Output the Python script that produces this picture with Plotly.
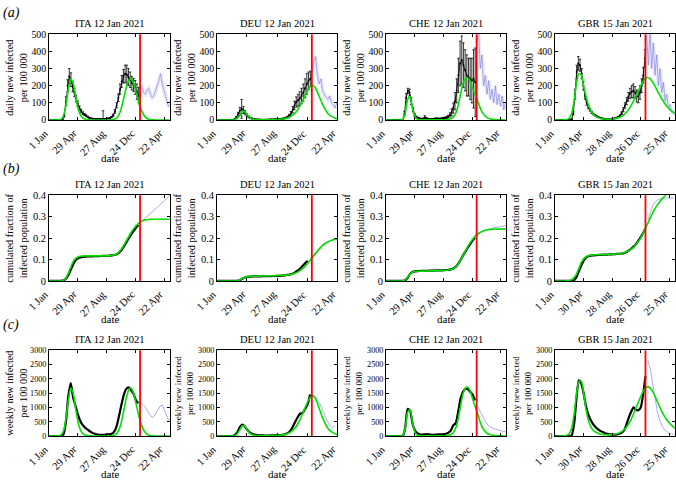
import numpy as np
import pandas as pd
import plotly.graph_objects as go

START = pd.Timestamp("2020-01-01")
W, H = 676, 487

countries = ["ITA", "DEU", "CHE", "GBR"]
panel_titles = ["ITA 12 Jan 2021", "DEU 12 Jan 2021", "CHE 12 Jan 2021", "GBR 15 Jan 2021"]
cutoff_dates = ["2021-01-12", "2021-01-12", "2021-01-12", "2021-01-15"]
span_days = [501, 477, 499, 504]
tick_dates_std = ["2020-01-01", "2020-04-29", "2020-08-27", "2020-12-24", "2021-04-22"]
tick_text_std = ["1 Jan", "29 Apr", "27 Aug", "24 Dec", "22 Apr"]
tick_dates_gbr = ["2020-01-01", "2020-04-30", "2020-08-28", "2020-12-26", "2021-04-25"]
tick_text_gbr = ["1 Jan", "30 Apr", "28 Aug", "26 Dec", "25 Apr"]

row_ticks = [[0, 100, 200, 300, 400, 500],
             [0, 0.1, 0.2, 0.3, 0.4],
             [0, 500, 1000, 1500, 2000, 2500, 3000]]
row_ticktext = [["0", "100", "200", "300", "400", "500"],
                ["0", "0.1", "0.2", "0.3", "0.4"],
                ["0", "500", "1000", "1500", "2000", "2500", "3000"]]
row_ylabels = ["daily new infected<br>per 100 000",
               "cumulated fraction of<br>infected population",
               "weekly new infected<br>per 100 000"]

# ---------------- ITA ----------------
# daily (weekly samples, every 7 days from 1 Jan 2020)
ita_daily_obs = [0, 0, 0, 0, 0, 0, 0, 0, 3, 25, 110, 200, 255, 235, 195, 160, 125, 95, 70, 52,
                 40, 32, 25, 18, 12, 9, 7, 6, 5, 5, 5, 5, 6, 6, 7, 9, 12, 17, 28, 50,
                 85, 130, 180, 225, 255, 270, 265, 250, 235, 215, 205, 190, 165, 145]
ita_daily_err = [0, 0, 0, 0, 0, 0, 0, 0, 2, 8, 25, 35, 45, 40, 30, 25, 20, 16, 12, 10,
                 8, 6, 5, 4, 3, 3, 2, 2, 2, 2, 2, 2, 48, 2, 2, 3, 3, 4, 6, 10,
                 15, 22, 30, 35, 40, 50, 55, 50, 45, 40, 38, 40, 45, 45]
ita_daily_future = [205, 190, 160, 150, 175, 185, 150, 130, 140, 165, 200, 230, 270, 210, 170, 140, 100, 75]
# model fits and smooth series (every 10 days)
ita_daily_fit = [0, 0, 0, 0, 1, 5, 25, 85, 180, 240, 215, 140, 70, 30, 12, 5, 2, 1,
                 0.5, 0.3, 0.3, 0.3, 0.3, 0.4, 0.5, 0.8,
                 1.5, 4, 12, 32, 72, 130, 190, 230, 240, 215, 165, 110, 65, 35, 15, 6, 2, 1,
                 0, 0, 0, 0, 0, 0, 0]
ita_cum_obs = [0, 0, 0, 0, 0, 0.001, 0.003, 0.01, 0.028, 0.052, 0.077, 0.096, 0.106, 0.11, 0.112,
               0.113, 0.114, 0.115, 0.115, 0.116, 0.116, 0.116, 0.117, 0.117, 0.117, 0.118, 0.119,
               0.121, 0.125, 0.132, 0.144, 0.161, 0.18, 0.199, 0.217, 0.233, 0.248, 0.262]
ita_cum_future = [0.275, 0.285, 0.294, 0.303, 0.312, 0.322, 0.332, 0.342, 0.353, 0.365, 0.376, 0.388, 0.40]
ita_cum_fit = [0, 0, 0, 0, 0, 0.001, 0.004, 0.014, 0.036, 0.064, 0.09, 0.105, 0.112, 0.115, 0.116,
               0.117, 0.117, 0.117, 0.117, 0.117, 0.117, 0.117, 0.117, 0.117, 0.117, 0.118,
               0.119, 0.121, 0.126, 0.135, 0.149, 0.167, 0.187, 0.207, 0.226, 0.243, 0.257, 0.268,
               0.276, 0.282, 0.285, 0.287, 0.288,
               0.288, 0.288, 0.288, 0.288, 0.288, 0.288, 0.288, 0.288]
ita_weekly_obs = [0, 0, 0, 0, 0, 5, 60, 500, 1400, 1850, 1350, 1050, 750, 520, 380, 290, 220, 160,
                  110, 75, 55, 45, 40, 45, 55, 60, 80, 150, 350, 700, 1100, 1450, 1650, 1700, 1600,
                  1480, 1250, 1150]
ita_weekly_future = [1150, 1100, 1000, 850, 700, 650, 750, 900, 1050, 1080, 850, 650, 500]
ita_weekly_fit = [0, 0, 0, 0, 7, 35, 175, 600, 1260, 1680, 1500, 980, 490, 210, 85, 35, 14, 7,
                  4, 2, 2, 2, 2, 3, 4, 6,
                  10, 28, 85, 225, 500, 910, 1330, 1610, 1680, 1500, 1150, 770, 455, 245, 105, 42, 14, 7,
                  0, 0, 0, 0, 0, 0, 0]

# ---------------- DEU ----------------
deu_daily_obs = [0, 0, 0, 0, 0, 0, 0, 0, 0, 0,
                 5, 15, 35, 55, 65, 58, 42, 28, 18, 12,
                 8, 6, 4, 3, 3, 2, 2, 2, 2, 2,
                 3, 3, 3, 4, 4, 5, 6, 7, 9, 12,
                 17, 25, 38, 60, 85, 105, 115, 125, 140, 160,
                 185, 210, 230, 240]
deu_daily_err = [0, 0, 0, 0, 0, 0, 0, 0, 0, 0,
                 2, 5, 10, 18, 55, 20, 12, 8, 5, 4,
                 3, 2, 2, 1, 1, 1, 1, 1, 1, 1,
                 1, 1, 1, 2, 2, 2, 2, 3, 3, 4,
                 5, 8, 12, 18, 25, 30, 35, 40, 45, 50,
                 55, 60, 50, 45]
deu_daily_future = [280, 340, 370, 260, 210, 240, 170, 150, 130, 120, 140, 100, 90, 70, 100]
deu_daily_fit = [0, 0, 0, 0, 0, 0, 0,
                 2, 10, 25, 50, 50, 30, 14, 6, 3, 2, 1.5,
                 1.5, 1.5, 1.5, 2, 2, 3, 3, 4, 6, 8,
                 12, 18, 27, 40, 58, 82, 110, 140, 170, 195,
                 203, 190, 160, 125, 90, 62, 40, 26, 17, 11, 7]
deu_cum_obs = [0, 0, 0, 0, 0, 0, 0, 0, 0.001, 0.003, 0.01, 0.016, 0.019, 0.02, 0.0205, 0.021,
               0.021, 0.0215, 0.022, 0.022, 0.022, 0.0225, 0.023, 0.023, 0.0235, 0.024, 0.025,
               0.026, 0.028, 0.03, 0.034, 0.04, 0.048, 0.057, 0.07, 0.082, 0.094]
deu_cum_future = [0.104, 0.118, 0.133, 0.147, 0.16, 0.171, 0.179, 0.185, 0.189, 0.192]
deu_cum_fit = [0, 0, 0, 0, 0, 0, 0, 0, 0.001, 0.004, 0.011, 0.017, 0.02, 0.021,
               0.0215, 0.022, 0.022, 0.0225, 0.023, 0.023, 0.0235, 0.024, 0.024, 0.0245, 0.025, 0.0255, 0.026,
               0.027, 0.028, 0.03, 0.032, 0.036, 0.041, 0.048, 0.057, 0.068, 0.081, 0.095,
               0.11, 0.125, 0.14, 0.153, 0.165, 0.174, 0.181, 0.187, 0.191, 0.194, 0.196]
deu_weekly_obs = [0, 0, 0, 0, 0, 0, 0, 30, 120, 300, 400, 340, 220, 130, 80, 50, 35, 25,
                  20, 18, 18, 20, 22, 25, 28, 35, 45, 60, 100, 170, 300, 480, 650, 780, 800,
                  950, 1100, 1450]
deu_weekly_future = [1450, 1380, 1250, 1120, 900, 680, 500, 360, 280, 380]
deu_weekly_fit = [0, 0, 0, 0, 0, 0, 0,
                  14, 70, 200, 350, 360, 210, 100, 45, 22, 14, 11,
                  10, 10, 11, 13, 15, 20, 22, 28, 40, 56,
                  85, 125, 190, 280, 405, 575, 770, 980, 1190, 1350,
                  1410, 1330, 1120, 875, 630, 435, 280, 180, 120, 78, 50]

# ---------------- CHE ----------------
che_daily_obs = [0, 0, 0, 0, 0, 0, 0, 0, 0, 0, 0,
                 40, 130, 170, 160, 110, 60, 30, 18, 12, 9,
                 7, 8, 15, 10, 6, 5, 5, 6, 8, 9,
                 8, 8, 9, 10, 12, 15, 20, 30, 45, 70,
                 110, 170, 260, 330, 350, 320, 290, 260, 250, 240,
                 230, 240, 220]
che_daily_err = [0, 0, 0, 0, 0, 0, 0, 0, 0, 0, 0,
                 10, 25, 15, 20, 20, 12, 8, 5, 4, 3,
                 3, 3, 10, 4, 2, 2, 2, 2, 3, 3,
                 3, 3, 3, 4, 5, 6, 8, 12, 20, 30,
                 50, 70, 100, 130, 140, 130, 120, 120, 110, 120,
                 130, 170, 200]
che_daily_future = [450, 520, 300, 380, 200, 260, 150, 230, 120, 180, 100, 200, 90, 150, 80, 140, 60, 100]
che_daily_fit = [0, 0, 0, 0, 0, 0, 0,
                 5, 40, 120, 135, 70, 20, 5, 2, 1,
                 1, 1, 1, 1, 1, 1, 1, 1, 1,
                 2, 4, 8, 18, 40, 85, 150, 210, 240, 245,
                 225, 185, 150, 115, 75, 45, 26, 14, 8, 5,
                 3, 2, 1, 1, 0.5, 0.5]
che_cum_obs = [0, 0, 0, 0, 0, 0, 0, 0, 0.003, 0.015, 0.033, 0.042, 0.045, 0.046, 0.0465, 0.047,
               0.047, 0.0475, 0.048, 0.048, 0.0485, 0.049, 0.049, 0.0495, 0.05, 0.051, 0.052,
               0.054, 0.058, 0.066, 0.08, 0.098, 0.118, 0.137, 0.155, 0.172, 0.188, 0.203]
che_cum_future = [0.215, 0.225, 0.232, 0.237, 0.241, 0.244, 0.246, 0.248, 0.25, 0.252, 0.254, 0.256, 0.258]
che_cum_fit = [0, 0, 0, 0, 0, 0, 0, 0.001, 0.005, 0.018, 0.032, 0.041, 0.044, 0.045,
               0.0455, 0.046, 0.046, 0.0465, 0.047, 0.047, 0.0475, 0.048, 0.048, 0.0485, 0.049, 0.05, 0.051,
               0.053, 0.057, 0.065, 0.078, 0.096, 0.117, 0.139, 0.16, 0.179, 0.195,
               0.208, 0.218, 0.226, 0.231, 0.235, 0.238, 0.24, 0.241, 0.242, 0.242,
               0.242, 0.242, 0.242, 0.242]
che_weekly_obs = [0, 0, 0, 0, 0, 0, 0, 0, 300, 950, 900, 450, 200, 100, 60, 50, 60, 70,
                  55, 45, 45, 50, 55, 55, 60, 80, 120, 200, 380, 450, 850, 1300, 1550, 1650, 1650,
                  1550, 1450, 1250]
che_weekly_future = [1050, 900, 700, 550, 420, 330, 280, 250, 230, 200, 170, 160, 140]
che_weekly_fit = [0, 0, 0, 0, 0, 0, 0,
                  35, 280, 840, 930, 490, 140, 35, 14, 7,
                  7, 7, 7, 7, 7, 7, 7, 7, 7,
                  14, 28, 56, 126, 280, 595, 1050, 1470, 1680, 1715,
                  1575, 1295, 1050, 805, 525, 315, 182, 98, 56, 35,
                  21, 14, 7, 7, 3, 3]

# ---------------- GBR ----------------
gbr_daily_obs = [0, 0, 0, 0, 0, 0, 0, 0, 0, 0,
                 5, 40, 150, 280, 330, 320, 270, 200, 140, 100,
                 75, 60, 45, 35, 28, 22, 17, 13, 10, 8,
                 7, 6, 6, 6, 7, 8, 10, 13, 18, 25,
                 40, 60, 85, 110, 135, 155, 165, 170, 160, 140,
                 135, 160, 200, 260, 360]
gbr_daily_err = [0, 0, 0, 0, 0, 0, 0, 0, 0, 0,
                 2, 10, 30, 40, 40, 35, 30, 25, 18, 14,
                 10, 8, 7, 5, 4, 3, 3, 2, 2, 2,
                 2, 1, 1, 1, 2, 2, 2, 3, 4, 5,
                 8, 12, 16, 20, 25, 30, 35, 40, 35, 35,
                 35, 40, 40, 45, 50]
gbr_daily_future = [500, 320, 520, 300, 450, 260, 380, 200, 300, 160, 220, 110, 150, 70, 90, 45, 50, 30]
gbr_daily_fit = [0, 0, 0, 0, 1, 3, 12, 40, 110, 210, 270, 265, 200, 140, 90, 55, 35, 22,
                 14, 9, 7, 6, 5, 5, 6, 8, 11, 15, 22, 32, 45, 62, 85, 112, 140, 170, 200, 225,
                 242, 248, 240, 222, 198, 170, 145, 120, 98, 80, 65, 52, 42, 34]
gbr_cum_obs = [0, 0, 0, 0, 0, 0, 0, 0, 0.004, 0.018, 0.045, 0.072, 0.094, 0.108, 0.115, 0.118,
               0.119, 0.12, 0.121, 0.122, 0.122, 0.123, 0.123, 0.124, 0.124, 0.125, 0.126, 0.127,
               0.128, 0.13, 0.135, 0.142, 0.15, 0.16, 0.172, 0.188, 0.205, 0.224, 0.245]
gbr_cum_future = [0.285, 0.32, 0.35, 0.368, 0.378, 0.383, 0.386, 0.387, 0.387, 0.387, 0.387, 0.387]
gbr_cum_fit = [0, 0, 0, 0, 0, 0.001, 0.002, 0.006, 0.016, 0.032, 0.058, 0.085, 0.103, 0.113, 0.118,
               0.12, 0.121, 0.122, 0.122, 0.123, 0.123, 0.123, 0.124, 0.124, 0.125, 0.125, 0.126,
               0.127, 0.129, 0.132, 0.136, 0.141, 0.148, 0.157, 0.169, 0.184, 0.201, 0.222, 0.245,
               0.27, 0.294, 0.318, 0.338, 0.355, 0.37, 0.383, 0.395, 0.405, 0.414, 0.421, 0.427, 0.432]
gbr_weekly_obs = [0, 0, 0, 0, 0, 0, 0, 30, 400, 1300, 1950, 1850, 1500, 1050, 750, 560, 420, 320,
                  240, 180, 140, 100, 75, 60, 50, 50, 60, 80, 120, 200, 400, 650, 850, 1000, 920,
                  900, 1000, 1450, 2100]
gbr_weekly_future = [2650, 2350, 1850, 1300, 850, 550, 350, 220, 140, 95, 70, 55]
gbr_weekly_fit = [0, 0, 0, 0, 7, 25, 90, 280, 750, 1450, 1900, 1930, 1500, 950, 560, 330, 210, 140,
                  95, 70, 55, 45, 42, 42, 48, 60, 80, 110, 155, 220, 310, 430, 590, 780, 980, 1180,
                  1380, 1560, 1680, 1720, 1680, 1560, 1390, 1200, 1010, 840, 690, 560, 455, 370, 300, 245]

series = {
    "ITA": [(ita_daily_obs, ita_daily_err, ita_daily_future, ita_daily_fit),
            (ita_cum_obs, None, ita_cum_future, ita_cum_fit),
            (ita_weekly_obs, None, ita_weekly_future, ita_weekly_fit)],
    "DEU": [(deu_daily_obs, deu_daily_err, deu_daily_future, deu_daily_fit),
            (deu_cum_obs, None, deu_cum_future, deu_cum_fit),
            (deu_weekly_obs, None, deu_weekly_future, deu_weekly_fit)],
    "CHE": [(che_daily_obs, che_daily_err, che_daily_future, che_daily_fit),
            (che_cum_obs, None, che_cum_future, che_cum_fit),
            (che_weekly_obs, None, che_weekly_future, che_weekly_fit)],
    "GBR": [(gbr_daily_obs, gbr_daily_err, gbr_daily_future, gbr_daily_fit),
            (gbr_cum_obs, None, gbr_cum_future, gbr_cum_fit),
            (gbr_weekly_obs, None, gbr_weekly_future, gbr_weekly_fit)],
}


def to_dates(offsets):
    return START + pd.to_timedelta(np.asarray(offsets), unit="D")


col_px = [(49, 170), (217, 337), (386, 506), (555, 675)]
row_px = [(29, 117), (194, 282), (353, 441)]
row_range = [[-0.6, 500], [-0.0005, 0.4], [-3.5, 3000]]
row_step = [7, 10, 10]
row_ytick_size = [9.8, 10.5, 8.2]

FONT = "Liberation Serif, Times New Roman, serif"
BLUE = "rgba(125,125,225,0.7)"
BAND = "rgba(160,160,240,0.22)"
GREEN = "rgb(0,225,0)"

fig = go.Figure()
layout = {}
shapes = []
annotations = []

for c, cc in enumerate(countries):
    x0p, x1p = col_px[c]
    tdates = tick_dates_gbr if cc == "GBR" else tick_dates_std
    ttext = tick_text_gbr if cc == "GBR" else tick_text_std
    for r in range(3):
        k = r * 4 + c + 1
        suffix = "" if k == 1 else str(k)
        xa, ya = f"x{suffix}", f"y{suffix}"
        y0p, y1p = row_px[r]
        obs, err, fut, fit = series[cc][r]
        step = row_step[r]
        obs_x = to_dates(np.arange(len(obs)) * step)
        fut_x = to_dates((np.arange(len(fut)) + len(obs)) * step)
        fit_x = to_dates(np.arange(len(fit)) * 10)

        if r == 0:
            fig.add_trace(go.Scatter(x=fut_x, y=fut, mode="lines", xaxis=xa, yaxis=ya,
                                     line=dict(color=BAND, width=4), showlegend=False,
                                     hoverinfo="skip"))
        fig.add_trace(go.Scatter(x=fut_x, y=fut, mode="lines", xaxis=xa, yaxis=ya,
                                 line=dict(color=BLUE, width=0.9), showlegend=False))
        if r == 0:
            fig.add_trace(go.Scatter(x=obs_x, y=obs, mode="lines+markers", xaxis=xa, yaxis=ya,
                                     line=dict(color="black", width=0.9),
                                     marker=dict(color="black", size=2),
                                     error_y=dict(type="data", array=err, color="black",
                                                  thickness=0.8, width=1.2),
                                     showlegend=False))
        else:
            fig.add_trace(go.Scatter(x=obs_x, y=obs, mode="lines", xaxis=xa, yaxis=ya,
                                     line=dict(color="black", width=2.2, shape="spline",
                                               smoothing=0.6),
                                     showlegend=False))
        fig.add_trace(go.Scatter(x=fit_x, y=fit, mode="lines", xaxis=xa, yaxis=ya,
                                 line=dict(color=GREEN, width=1.6, shape="spline", smoothing=0.6),
                                 showlegend=False))

        shapes.append(dict(type="line", xref=xa, yref=f"{ya} domain",
                           x0=cutoff_dates[c], x1=cutoff_dates[c], y0=0, y1=1,
                           line=dict(color="rgb(255,0,0)", width=1.8)))

        axis_common = dict(showline=True, linecolor="black", linewidth=0.8, mirror="ticks",
                           ticks="inside", ticklen=3, tickwidth=0.8, tickcolor="black",
                           showgrid=False, zeroline=False)
        xname = f"xaxis{suffix}"
        yname = f"yaxis{suffix}"
        layout[xname] = dict(axis_common, domain=[x0p / W, x1p / W], anchor=ya, type="date",
                             range=[START, START + pd.Timedelta(days=span_days[c])],
                             tickvals=tdates, ticktext=ttext, showticklabels=False)
        layout[yname] = dict(axis_common, domain=[1 - y1p / H, 1 - y0p / H], anchor=xa,
                             range=row_range[r], tickvals=row_ticks[r], ticktext=row_ticktext[r],
                             tickfont=dict(family=FONT, size=row_ytick_size[r], color="black"))

        # rotated date tick labels, ending at their tick
        for tv, tt in zip(tdates, ttext):
            annotations.append(dict(text=tt, x=tv, xref=xa, y=1 - (y1p + 6) / H, yref="paper",
                                    showarrow=False, textangle=-45, xanchor="right", yanchor="top",
                                    xshift=3, borderpad=0,
                                    font=dict(family=FONT, size=10.6, color="black")))

        # title
        annotations.append(dict(text=panel_titles[c], x=(x0p + x1p) / 2 / W, y=1 - (y0p - 11.5) / H,
                                xref="paper", yref="paper", showarrow=False,
                                xanchor="center", yanchor="middle",
                                font=dict(family=FONT, size=10.5, color="black")))
        # y label
        ysize = 10.3 if (r < 2 or c == 0) else 9
        annotations.append(dict(text=row_ylabels[r], x=(x0p - 32.5) / W, y=1 - (y0p + y1p) / 2 / H,
                                xref="paper", yref="paper", showarrow=False, textangle=-90,
                                xanchor="center", yanchor="middle",
                                font=dict(family=FONT, size=ysize, color="black")))
        # x label
        annotations.append(dict(text="date", x=(x0p + x1p) / 2 / W, y=1 - (y1p + 39) / H,
                                xref="paper", yref="paper", showarrow=False,
                                xanchor="center", yanchor="middle",
                                font=dict(family=FONT, size=11, color="black")))

for lbl, ypx in [("(a)", 7), ("(b)", 167), ("(c)", 327)]:
    annotations.append(dict(text=f"<i>{lbl}</i>", x=1 / W, y=1 - ypx / H, xref="paper", yref="paper",
                            showarrow=False, xanchor="left", yanchor="middle",
                            font=dict(family=FONT, size=14, color="black")))

fig.update_layout(width=W, height=H, margin=dict(l=0, r=0, t=0, b=0),
                  paper_bgcolor="white", plot_bgcolor="white",
                  font=dict(family=FONT, color="black"),
                  shapes=shapes, annotations=annotations, showlegend=False, **layout)

fig.write_html("out.html", config={"displayModeBar": False},
               post_script="document.body.style.margin='0px';document.body.style.overflow='hidden';")
